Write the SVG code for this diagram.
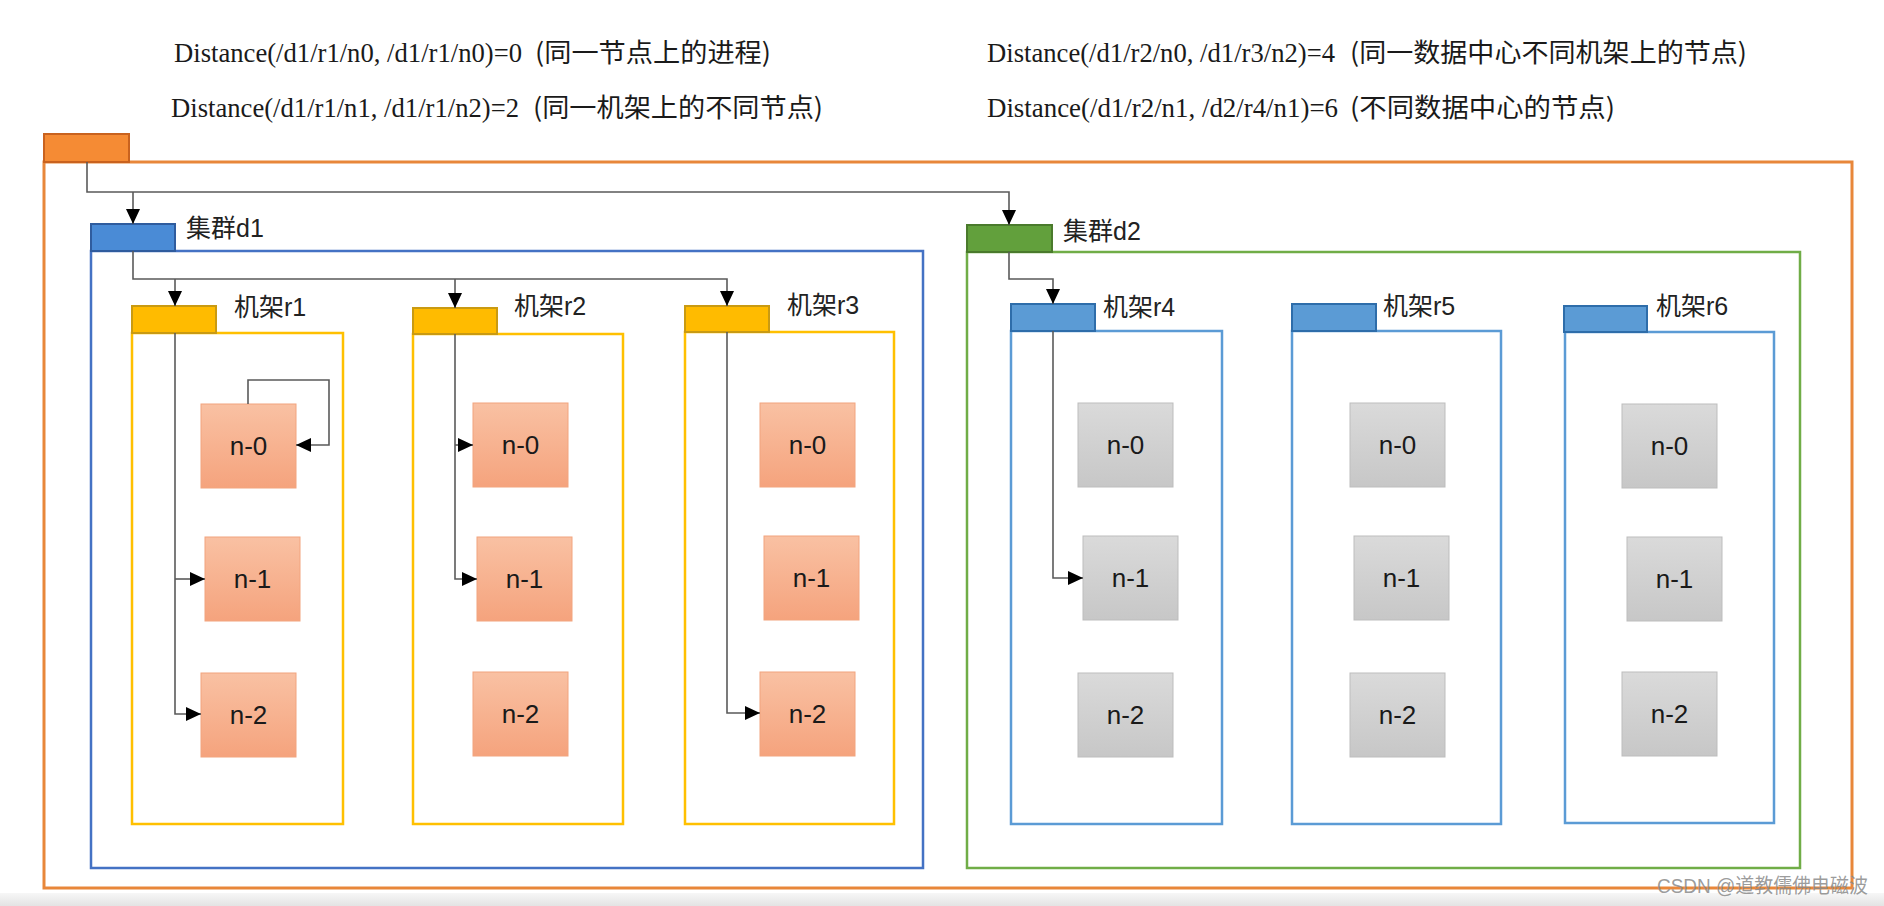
<svg xmlns="http://www.w3.org/2000/svg" width="1884" height="906" viewBox="0 0 1884 906">
<style>
.hdL{font-family:"Liberation Serif","Times New Roman",serif;font-size:28px;fill:#1a1a1a}
.hdC{font-family:"Noto Sans CJK SC","Noto Sans",sans-serif;font-size:26px;fill:#1a1a1a}
.lbl{font-family:"Liberation Sans","Noto Sans CJK SC",sans-serif;font-size:25px;fill:#222}
.nl{font-family:"Liberation Sans",Arial,sans-serif;font-size:26px;fill:#1a1a1a;text-anchor:middle}
.conn{fill:none;stroke:#5a5a5a;stroke-width:1.6}
.fOr{fill:none;stroke:#E8873A;stroke-width:3}
.fD1{fill:none;stroke:#4472C4;stroke-width:2.5}
.fD2{fill:none;stroke:#70AD47;stroke-width:2.5}
.fY{fill:none;stroke:#FFC000;stroke-width:2.5}
.fB{fill:none;stroke:#5B9BD5;stroke-width:2.5}
.tOr{fill:#F58B34;stroke:#C9621E;stroke-width:2}
.tD1{fill:#4A8BD6;stroke:#2F5C9E;stroke-width:2}
.tD2{fill:#62A03C;stroke:#4A7A2C;stroke-width:2}
.tY{fill:#FFBB00;stroke:#C99A12;stroke-width:2}
.tB{fill:#5B9BD5;stroke:#2E6DAA;stroke-width:2}
.nO{fill:url(#gO);stroke:#F2A47E;stroke-width:1}
.nG{fill:url(#gG);stroke:#BDBDBD;stroke-width:1}
</style>
<defs>
<linearGradient id="gO" x1="0" y1="0" x2="0" y2="1"><stop offset="0" stop-color="#F9C1A3"/><stop offset="1" stop-color="#F5A37D"/></linearGradient>
<linearGradient id="gG" x1="0" y1="0" x2="0" y2="1"><stop offset="0" stop-color="#DADADA"/><stop offset="1" stop-color="#C7C7C7"/></linearGradient>
<linearGradient id="gBot" x1="0" y1="0" x2="0" y2="1"><stop offset="0" stop-color="#F7F7F7"/><stop offset="1" stop-color="#E3E3E3"/></linearGradient>
<marker id="ah" markerUnits="userSpaceOnUse" markerWidth="15" markerHeight="14" refX="15" refY="7" orient="auto"><path d="M0,0 L15,7 L0,14 z" fill="#000"/></marker>
</defs>
<rect width="1884" height="906" fill="#fff"/>
<rect x="0" y="893" width="1884" height="13" fill="url(#gBot)"/>

<g id="titles">
<text class="hdL" x="174" y="62" textLength="348" lengthAdjust="spacingAndGlyphs">Distance(/d1/r1/n0, /d1/r1/n0)=0</text>
<text class="hdC" x="535" y="62" textLength="236" lengthAdjust="spacingAndGlyphs">(同一节点上的进程)</text>
<text class="hdL" x="171" y="117" textLength="348" lengthAdjust="spacingAndGlyphs">Distance(/d1/r1/n1, /d1/r1/n2)=2</text>
<text class="hdC" x="533" y="117" textLength="290" lengthAdjust="spacingAndGlyphs">(同一机架上的不同节点)</text>
<text class="hdL" x="987" y="62" textLength="348" lengthAdjust="spacingAndGlyphs">Distance(/d1/r2/n0, /d1/r3/n2)=4</text>
<text class="hdC" x="1350" y="62" textLength="397" lengthAdjust="spacingAndGlyphs">(同一数据中心不同机架上的节点)</text>
<text class="hdL" x="987" y="117" textLength="351" lengthAdjust="spacingAndGlyphs">Distance(/d1/r2/n1, /d2/r4/n1)=6</text>
<text class="hdC" x="1350" y="117" textLength="265" lengthAdjust="spacingAndGlyphs">(不同数据中心的节点)</text>
</g>

<g id="root">
<rect class="fOr" x="44" y="162" width="1808" height="726"/>
<rect class="tOr" x="44" y="134" width="85" height="28"/>
</g>

<g id="d1">
<rect class="fD1" x="91" y="251" width="832" height="617"/>
<rect class="tD1" x="91" y="224" width="84" height="27"/>
<text class="lbl" x="186" y="237">集群d1</text>
</g>
<g id="d2">
<rect class="fD2" x="967" y="252" width="833" height="616"/>
<rect class="tD2" x="967" y="225" width="85" height="27"/>
<text class="lbl" x="1063" y="240">集群d2</text>
</g>

<g id="r1">
<rect class="fY" x="132" y="333" width="211" height="491"/>
<rect class="tY" x="132" y="306" width="84" height="27"/>
<text class="lbl" x="234" y="316">机架r1</text>
</g>
<g id="r2">
<rect class="fY" x="413" y="334" width="210" height="490"/>
<rect class="tY" x="413" y="308" width="84" height="26"/>
<text class="lbl" x="514" y="315">机架r2</text>
</g>
<g id="r3">
<rect class="fY" x="685" y="332" width="209" height="492"/>
<rect class="tY" x="685" y="306" width="84" height="26"/>
<text class="lbl" x="787" y="314">机架r3</text>
</g>
<g id="r4">
<rect class="fB" x="1011" y="331" width="211" height="493"/>
<rect class="tB" x="1011" y="304" width="84" height="27"/>
<text class="lbl" x="1103" y="316">机架r4</text>
</g>
<g id="r5">
<rect class="fB" x="1292" y="331" width="209" height="493"/>
<rect class="tB" x="1292" y="304" width="84" height="27"/>
<text class="lbl" x="1383" y="315">机架r5</text>
</g>
<g id="r6">
<rect class="fB" x="1565" y="332" width="209" height="491"/>
<rect class="tB" x="1564" y="306" width="83" height="26"/>
<text class="lbl" x="1656" y="315">机架r6</text>
</g>

<g id="r1-n0"><rect class="nO" x="201" y="404" width="95" height="84"/><text class="nl" x="248.5" y="455">n-0</text></g>
<g id="r1-n1"><rect class="nO" x="205" y="537" width="95" height="84"/><text class="nl" x="252.5" y="588">n-1</text></g>
<g id="r1-n2"><rect class="nO" x="201" y="673" width="95" height="84"/><text class="nl" x="248.5" y="724">n-2</text></g>
<g id="r2-n0"><rect class="nO" x="473" y="403" width="95" height="84"/><text class="nl" x="520.5" y="454">n-0</text></g>
<g id="r2-n1"><rect class="nO" x="477" y="537" width="95" height="84"/><text class="nl" x="524.5" y="588">n-1</text></g>
<g id="r2-n2"><rect class="nO" x="473" y="672" width="95" height="84"/><text class="nl" x="520.5" y="723">n-2</text></g>
<g id="r3-n0"><rect class="nO" x="760" y="403" width="95" height="84"/><text class="nl" x="807.5" y="454">n-0</text></g>
<g id="r3-n1"><rect class="nO" x="764" y="536" width="95" height="84"/><text class="nl" x="811.5" y="587">n-1</text></g>
<g id="r3-n2"><rect class="nO" x="760" y="672" width="95" height="84"/><text class="nl" x="807.5" y="723">n-2</text></g>
<g id="r4-n0"><rect class="nG" x="1078" y="403" width="95" height="84"/><text class="nl" x="1125.5" y="454">n-0</text></g>
<g id="r4-n1"><rect class="nG" x="1083" y="536" width="95" height="84"/><text class="nl" x="1130.5" y="587">n-1</text></g>
<g id="r4-n2"><rect class="nG" x="1078" y="673" width="95" height="84"/><text class="nl" x="1125.5" y="724">n-2</text></g>
<g id="r5-n0"><rect class="nG" x="1350" y="403" width="95" height="84"/><text class="nl" x="1397.5" y="454">n-0</text></g>
<g id="r5-n1"><rect class="nG" x="1354" y="536" width="95" height="84"/><text class="nl" x="1401.5" y="587">n-1</text></g>
<g id="r5-n2"><rect class="nG" x="1350" y="673" width="95" height="84"/><text class="nl" x="1397.5" y="724">n-2</text></g>
<g id="r6-n0"><rect class="nG" x="1622" y="404" width="95" height="84"/><text class="nl" x="1669.5" y="455">n-0</text></g>
<g id="r6-n1"><rect class="nG" x="1627" y="537" width="95" height="84"/><text class="nl" x="1674.5" y="588">n-1</text></g>
<g id="r6-n2"><rect class="nG" x="1622" y="672" width="95" height="84"/><text class="nl" x="1669.5" y="723">n-2</text></g>

<g id="connectors">
<path class="conn" d="M87,162 V192 H1009 V225" marker-end="url(#ah)"/>
<path class="conn" d="M133,192 V224" marker-end="url(#ah)"/>
<path class="conn" d="M133,251 V279 H727 V306" marker-end="url(#ah)"/>
<path class="conn" d="M175,279 V306" marker-end="url(#ah)"/>
<path class="conn" d="M455,279 V308" marker-end="url(#ah)"/>
<path class="conn" d="M1009,252 V279 H1053 V304" marker-end="url(#ah)"/>
<path class="conn" d="M248,404 V380 H329 V445 H296" marker-end="url(#ah)"/>
<path class="conn" d="M175,333 V714 H201" marker-end="url(#ah)"/>
<path class="conn" d="M175,579 H205" marker-end="url(#ah)"/>
<path class="conn" d="M455,334 V579 H477" marker-end="url(#ah)"/>
<path class="conn" d="M455,445 H473" marker-end="url(#ah)"/>
<path class="conn" d="M727,332 V713 H760" marker-end="url(#ah)"/>
<path class="conn" d="M1053,331 V578 H1083" marker-end="url(#ah)"/>
</g>

<g id="watermark">
<text x="1657" y="893" textLength="211" lengthAdjust="spacingAndGlyphs" style="font-family:'Liberation Sans','Noto Sans CJK SC',sans-serif;font-size:20px;fill:#8a8a8a;fill-opacity:0.85">CSDN @道教儒佛电磁波</text>
</g>
</svg>
